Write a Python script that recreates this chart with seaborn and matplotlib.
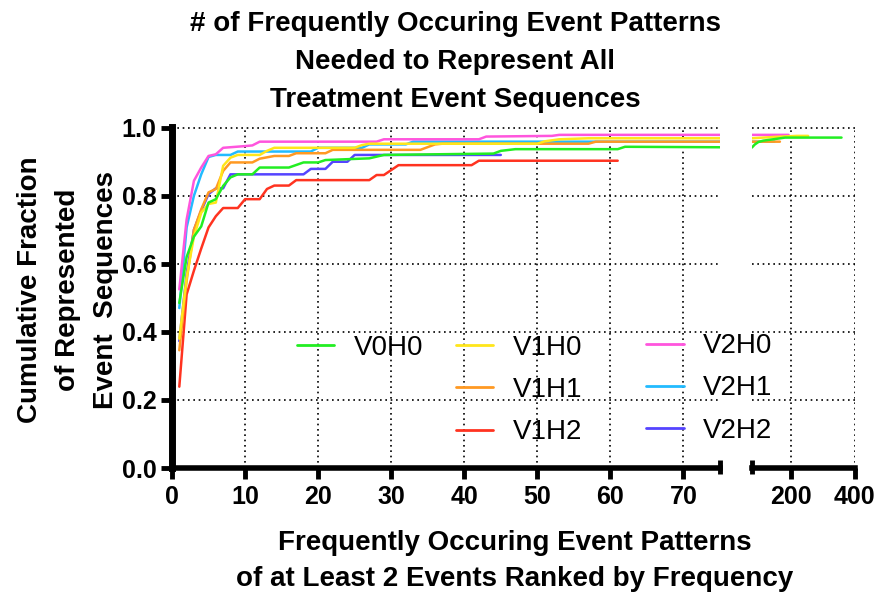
import seaborn as sns
import matplotlib
matplotlib.use("Agg")
from matplotlib import pyplot as plt
from matplotlib.lines import Line2D

# series names and colours
names = ["V0H0", "V1H0", "V1H1", "V1H2", "V2H0", "V2H1", "V2H2"]
colors = ["#22ee22", "#ffe61a", "#ff9922", "#ff3320", "#ff55dd", "#22bbff", "#5544ff"]

# rank of pattern (x) and cumulative fraction (y), read at the break points
v0h0_x = [1, 2, 3, 4, 5, 6, 7, 8, 9, 11, 12, 16, 18, 20, 21, 27, 29, 44, 45, 47, 61, 62, 80, 89, 100, 115, 146, 183, 359]
v0h0_y = [.485, .62, .68, .71, .78, .79, .829, .854, .863, .863, .883, .883, .898, .898, .905, .91, .92, .924, .932,
          .937, .937, .944, .942, .951, .958, .962, .966, .971, .971]

v1h0_x = [1, 2, 3, 4, 5, 6, 7, 8, 9, 12, 13, 14, 25, 26, 27, 50, 51, 53, 57, 80, 150, 219, 255]
v1h0_y = [.38, .56, .68, .75, .776, .78, .888, .912, .92, .92, .932, .941, .941, .949, .953, .953, .96, .966, .969,
          .969, .973, .976, .976]

v1h1_x = [1, 2, 3, 4, 5, 6, 7, 8, 11, 12, 14, 16, 17, 21, 22, 34, 35, 36, 37, 57, 58, 167]
v1h1_y = [.346, .55, .70, .76, .81, .82, .873, .898, .898, .909, .917, .917, .925, .925, .935, .935, .943, .951,
          .953, .953, .959, .959]

v1h2_x = [1, 2, 3, 4, 5, 6, 7, 9, 10, 12, 13, 14, 16, 17, 27, 28, 29, 31, 41, 42, 61]
v1h2_y = [.239, .51, .58, .645, .707, .74, .764, .764, .79, .79, .82, .83, .83, .846, .846, .861, .861, .89, .89,
          .903, .903]

v2h0_x = [1, 2, 3, 4, 5, 6, 7, 10, 11, 12, 28, 29, 42, 43, 52, 53, 194]
v2h0_y = [.525, .73, .844, .883, .917, .922, .941, .946, .948, .959, .959, .966, .966, .974, .976, .979, .979]

v2h1_x = [1, 2, 3, 4, 5, 6, 8, 9, 19, 20, 26, 27, 32, 33, 150]
v2h1_y = [.47, .707, .80, .863, .914, .92, .92, .93, .93, .941, .941, .951, .951, .959, .959]

v2h2_x = [1, 2, 3, 4, 5, 6, 7, 8, 18, 19, 21, 22, 24, 25, 45]
v2h2_y = [.373, .57, .70, .756, .805, .822, .822, .863, .863, .879, .879, .90, .90, .92, .92]

series = [(v0h0_x, v0h0_y), (v1h0_x, v1h0_y), (v1h1_x, v1h1_y), (v1h2_x, v1h2_y),
          (v2h0_x, v2h0_y), (v2h1_x, v2h1_y), (v2h2_x, v2h2_y)]

left_ticks = [0, 10, 20, 30, 40, 50, 60, 70]
right_ticks = [200, 400]
y_ticks = [0.0, 0.2, 0.4, 0.6, 0.8, 1.0]

sns.set_style("white")
plt.rcParams["font.family"] = ["Liberation Sans", "DejaVu Sans"]
plt.rcParams["text.color"] = "black"
plt.rcParams["axes.labelcolor"] = "black"
plt.rcParams["xtick.color"] = "black"
plt.rcParams["ytick.color"] = "black"

fig = plt.figure(figsize=(8.8, 5.94), dpi=100)
H = 594.0
W = 880.0
ax2 = fig.add_axes([752 / W, 1 - 468 / H, 103 / W, 341.3 / H])
ax = fig.add_axes([172 / W, 1 - 468 / H, 548 / W, 341.3 / H])
# keep the main axes (and its legend) above the right segment
ax.set_zorder(3)
ax.patch.set_visible(False)

grid_style = dict(color="black", linestyle=(0, (1, 2.2)), linewidth=1.2)

# draw in reverse so V0H0 ends on top
for (xs, ys), c in reversed(list(zip(series, colors))):
    for a in (ax, ax2):
        sns.lineplot(x=xs, y=ys, ax=a, color=c, linewidth=1.8, legend=False, estimator=None)

for a in (ax, ax2):
    a.set_ylim(0, 1.003)
    a.set_yticks(y_ticks)
    a.grid(True, **grid_style)
    a.set_axisbelow(True)
    a.set_xlabel("")
    a.set_ylabel("")
    for s in ("top", "right"):
        a.spines[s].set_visible(False)
    a.spines["bottom"].set_linewidth(4)
    a.spines["bottom"].set_color("black")
    a.tick_params(axis="x", direction="out", length=8, width=3.5, labelsize=18, pad=4, bottom=True)

ax.set_xlim(0, 75)
ax.set_xticks(left_ticks)
ax.set_xticklabels([str(t) for t in left_ticks], fontweight="bold")
ax.set_yticklabels(["%.1f" % t for t in y_ticks], fontweight="bold")
ax.spines["left"].set_linewidth(5)
ax.spines["left"].set_color("black")
ax.tick_params(axis="y", direction="out", length=8, width=3.5, labelsize=18, pad=3, left=True)

ax2.set_xlim(80, 401)
ax2.set_xticks(right_ticks)
ax2.set_xticklabels([str(t) for t in right_ticks], fontweight="bold")
ax2.spines["left"].set_visible(False)
ax2.tick_params(axis="y", left=False, labelleft=False)

# break marks at the ends of the two x segments
ax.plot([1, 1], [-0.018, 0.022], transform=ax.transAxes, color="black", lw=3.5, clip_on=False,
        solid_capstyle="butt")
ax2.plot([0, 0], [-0.018, 0.022], transform=ax2.transAxes, color="black", lw=3.5, clip_on=False,
         solid_capstyle="butt")

# legend: three columns placed separately
handles = [Line2D([], [], color=c, lw=2) for c in colors]
leg_kw = dict(frameon=False, fontsize=20, handlelength=1.35, handletextpad=0.7, labelspacing=0.58,
              borderpad=0, borderaxespad=0, loc="center left")
leg1 = ax.legend(handles[:1], names[:1], bbox_to_anchor=(0.228, 0.352), **leg_kw)
ax.add_artist(leg1)
leg2 = ax.legend(handles[1:4], names[1:4], bbox_to_anchor=(0.518, 0.228), **leg_kw)
ax.add_artist(leg2)
leg3 = ax.legend(handles[4:], names[4:], bbox_to_anchor=(0.865, 0.233), **leg_kw)

fig.text(455 / W, 1 - 11 / H, "# of Frequently Occuring Event Patterns\nNeeded to Represent All\nTreatment Event Sequences",
         ha="center", va="top", fontsize=20, fontweight="bold", linespacing=1.6)
fig.text(515 / W, 1 - 530 / H, "Frequently Occuring Event Patterns\nof at Least 2 Events Ranked by Frequency",
         ha="center", va="top", fontsize=20, fontweight="bold", linespacing=1.5)
fig.text(68 / W, 1 - 290 / H, "Cumulative Fraction\nof Represented\nEvent  Sequences",
         ha="center", va="center", rotation=90, fontsize=20, fontweight="bold", linespacing=1.6)

fig.savefig("out.png", dpi=100)
